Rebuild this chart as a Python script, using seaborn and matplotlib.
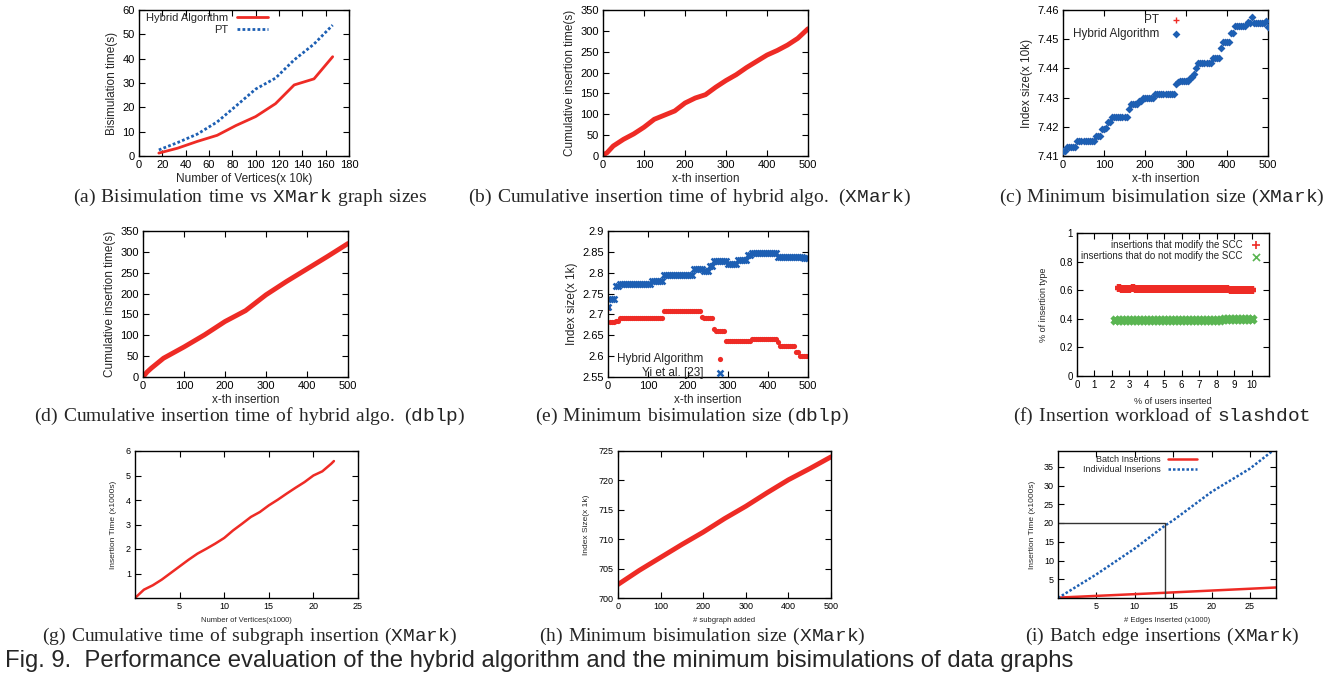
import numpy as np
import matplotlib
matplotlib.use("Agg")
import matplotlib.pyplot as plt
import seaborn as sns
from matplotlib.ticker import FuncFormatter

# ---- data ----
# (a) bisimulation time vs graph size
a_vertices = [17, 33, 50, 67, 83, 100, 117, 133, 150, 166]
a_hybrid = [1.2, 3.2, 6.0, 8.5, 12.5, 16.2, 21.5, 29.2, 31.7, 40.8]
a_pt = [2.5, 5.5, 9.0, 14.0, 20.5, 27.5, 32.0, 39.5, 46.0, 53.8]

# (b) cumulative insertion time, XMark
b_x = [0, 10, 25, 50, 75, 100, 125, 150, 175, 200, 225, 250, 275, 300, 325,
       350, 375, 400, 425, 450, 475, 500]
b_time = [2, 8, 24, 40, 53, 69, 88, 98, 108, 127, 139, 147, 165, 181, 195,
          212, 227, 242, 253, 266, 282, 305]

# (c) minimum bisimulation size, XMark (sampled every 5 insertions)
c_x = np.arange(0, 501, 5)
c_hybrid = [7.4118, 7.4118, 7.4132, 7.4132, 7.4132, 7.4132, 7.4132, 7.4150,
            7.4150, 7.4150, 7.4150, 7.4150, 7.4150, 7.4150, 7.4150, 7.4150,
            7.4169, 7.4169, 7.4169, 7.4192, 7.4192, 7.4197, 7.4215, 7.4215,
            7.4235, 7.4235, 7.4235, 7.4235, 7.4235, 7.4235, 7.4235, 7.4235,
            7.4260, 7.4277, 7.4277, 7.4277, 7.4277, 7.4288, 7.4290, 7.4298,
            7.4298, 7.4298, 7.4298, 7.4298, 7.4298, 7.4313, 7.4313, 7.4313,
            7.4313, 7.4313, 7.4313, 7.4313, 7.4313, 7.4313, 7.4313, 7.4348,
            7.4355, 7.4356, 7.4356, 7.4356, 7.4356, 7.4356, 7.4366, 7.4372,
            7.4380, 7.4400, 7.4417, 7.4417, 7.4417, 7.4417, 7.4417, 7.4417,
            7.4417, 7.4434, 7.4434, 7.4434, 7.4434, 7.4470, 7.4490, 7.4490,
            7.4490, 7.4490, 7.4521, 7.4521, 7.4545, 7.4545, 7.4545, 7.4545,
            7.4545, 7.4545, 7.4560, 7.4556, 7.4577, 7.4556, 7.4556, 7.4556,
            7.4556, 7.4556, 7.4556, 7.4563, 7.4541]
c_pt = list(c_hybrid)

# (d) cumulative insertion time, dblp
d_x = [0, 10, 20, 50, 100, 150, 200, 250, 300, 350, 400, 450, 500]
d_time = [0, 12, 21, 45, 72, 101, 133, 159, 197, 229, 259, 289, 320]

# (e) minimum bisimulation size, dblp (sampled every 5 insertions)
e_x = np.arange(0, 501, 5)
e_hybrid = [2.715, 2.682, 2.682, 2.682, 2.685, 2.685, 2.692, 2.692, 2.692,
            2.692, 2.692, 2.692, 2.692, 2.692, 2.692, 2.692, 2.692, 2.692,
            2.692, 2.692, 2.692, 2.692, 2.692, 2.692, 2.692, 2.692, 2.692,
            2.692, 2.709, 2.709, 2.709, 2.709, 2.709, 2.709, 2.709, 2.709,
            2.709, 2.709, 2.709, 2.709, 2.709, 2.709, 2.709, 2.709, 2.709,
            2.709, 2.709, 2.693, 2.691, 2.691, 2.691, 2.691, 2.691, 2.666,
            2.661, 2.661, 2.661, 2.661, 2.661, 2.636, 2.636, 2.636, 2.636,
            2.636, 2.636, 2.636, 2.636, 2.636, 2.636, 2.636, 2.636, 2.636,
            2.641, 2.641, 2.641, 2.641, 2.641, 2.641, 2.641, 2.641, 2.641,
            2.641, 2.641, 2.641, 2.641, 2.633, 2.624, 2.624, 2.624, 2.624,
            2.624, 2.624, 2.624, 2.624, 2.610, 2.610, 2.600, 2.600, 2.600,
            2.600, 2.600]
e_yi = [2.718, 2.738, 2.738, 2.738, 2.767, 2.767, 2.773, 2.773, 2.773, 2.773,
        2.773, 2.773, 2.773, 2.773, 2.773, 2.773, 2.773, 2.773, 2.773, 2.773,
        2.773, 2.773, 2.780, 2.780, 2.780, 2.780, 2.780, 2.780, 2.795, 2.795,
        2.795, 2.795, 2.795, 2.795, 2.795, 2.795, 2.795, 2.795, 2.795, 2.795,
        2.795, 2.795, 2.795, 2.810, 2.810, 2.810, 2.810, 2.810, 2.803, 2.803,
        2.803, 2.815, 2.815, 2.827, 2.827, 2.827, 2.827, 2.827, 2.827, 2.827,
        2.820, 2.820, 2.820, 2.820, 2.820, 2.830, 2.830, 2.830, 2.830, 2.830,
        2.843, 2.843, 2.847, 2.847, 2.847, 2.847, 2.847, 2.847, 2.847, 2.847,
        2.847, 2.847, 2.847, 2.847, 2.847, 2.838, 2.838, 2.838, 2.838, 2.838,
        2.838, 2.838, 2.838, 2.838, 2.838, 2.838, 2.838, 2.838, 2.835, 2.835,
        2.835]

# (f) insertion workload of slashdot
f_mod_x = np.arange(2.4, 10.01, 0.2)
f_mod = [0.612, 0.611, 0.610, 0.611, 0.612, 0.610, 0.609, 0.609, 0.608, 0.608,
         0.608, 0.608, 0.608, 0.608, 0.608, 0.608, 0.608, 0.608, 0.608, 0.608,
         0.608, 0.608, 0.608, 0.608, 0.608, 0.608, 0.608, 0.608, 0.607, 0.607,
         0.606, 0.605, 0.604, 0.603, 0.602, 0.602, 0.602, 0.602, 0.602]
f_nomod_x = np.arange(2.2, 10.11, 0.2)
f_nomod = [0.390, 0.390, 0.390, 0.390, 0.390, 0.390, 0.390, 0.390, 0.390,
           0.390, 0.390, 0.390, 0.390, 0.390, 0.390, 0.390, 0.390, 0.390,
           0.390, 0.390, 0.390, 0.390, 0.390, 0.390, 0.391, 0.391, 0.392,
           0.392, 0.393, 0.394, 0.395, 0.396, 0.397, 0.398, 0.398, 0.398,
           0.398, 0.398, 0.398, 0.398]

# (g) cumulative time of subgraph insertion
g_vertices = [0, 1, 2, 3, 4, 5, 6, 7, 8, 9, 10, 11, 12, 13, 14, 15, 16, 17,
              18, 19, 20, 21, 22, 22.3]
g_time = [0.0, 0.34, 0.52, 0.75, 1.02, 1.29, 1.56, 1.81, 2.01, 2.22, 2.45,
          2.76, 3.03, 3.31, 3.51, 3.78, 4.01, 4.26, 4.50, 4.73, 5.00, 5.17,
          5.48, 5.59]

# (h) minimum bisimulation size vs subgraphs added
h_x = [0, 50, 100, 150, 200, 250, 300, 350, 400, 450, 500]
h_size = [702.3, 704.7, 706.9, 709.1, 711.2, 713.5, 715.6, 717.9, 720.1,
          722.0, 724.0]

# (i) batch vs individual edge insertions
i_edges = [0, 5, 10, 14, 15, 20, 25, 28]
i_individual = [0, 6.3, 13.2, 19.4, 20.7, 28.3, 34.5, 39.3]
i_batch_x = [0, 14, 28.4]
i_batch = [0.1, 1.4, 2.8]
i_mark_x = [0, 14, 14]
i_mark_y = [20, 20, 0]

captions = [
    ("a", [("Bisimulation time vs ", 0), ("XMark", 1), (" graph sizes", 0)]),
    ("b", [("Cumulative insertion time of hybrid algo. (", 0), ("XMark", 1), (")", 0)]),
    ("c", [("Minimum bisimulation size (", 0), ("XMark", 1), (")", 0)]),
    ("d", [("Cumulative insertion time of hybrid algo. (", 0), ("dblp", 1), (")", 0)]),
    ("e", [("Minimum bisimulation size (", 0), ("dblp", 1), (")", 0)]),
    ("f", [("Insertion workload of ", 0), ("slashdot", 1)]),
    ("g", [("Cumulative time of subgraph insertion (", 0), ("XMark", 1), (")", 0)]),
    ("h", [("Minimum bisimulation size (", 0), ("XMark", 1), (")", 0)]),
    ("i", [("Batch edge insertions (", 0), ("XMark", 1), (")", 0)]),
]
fig_caption = "Fig. 9.  Performance evaluation of the hybrid algorithm and the minimum bisimulations of data graphs"

RED = "#ee2b25"
BLUE = "#1d5fb3"
GREEN = "#5ab552"

W, H = 1339, 679

sns.set_theme(style="ticks")
plt.rcParams["font.family"] = ["Liberation Sans", "DejaVu Sans"]
plt.rcParams["mathtext.fontset"] = "custom"
plt.rcParams["mathtext.rm"] = "Liberation Serif"
plt.rcParams["mathtext.tt"] = "Liberation Mono"
plt.rcParams["axes.edgecolor"] = "black"
plt.rcParams["axes.linewidth"] = 1.0

fig = plt.figure(figsize=(W / 100, H / 100), dpi=100)


def px(x, y):
    return x / W, 1 - y / H


def make_ax(x0, y0, x1, y1, fs=8):
    ax = fig.add_axes([x0 / W, 1 - y1 / H, (x1 - x0) / W, (y1 - y0) / H])
    ax.tick_params(direction="in", top=True, right=True, length=4, width=0.8,
                   labelsize=fs, colors="black", pad=3)
    return ax


def gp_legend(ax, corner, fs=7.5, spacing=0.15, **kw):
    leg = ax.legend(loc="upper right", bbox_to_anchor=px(*corner),
                    bbox_transform=fig.transFigure, frameon=False,
                    markerfirst=False, fontsize=fs, borderpad=0,
                    borderaxespad=0, labelspacing=spacing, handletextpad=0.8, **kw)
    return leg


g_fmt = FuncFormatter(lambda v, p: "%g" % round(v, 4))

# (a)
ax = make_ax(139, 10, 349, 156)
sns.lineplot(x=a_vertices, y=a_hybrid, ax=ax, color=RED, lw=2, label="Hybrid Algorithm")
sns.lineplot(x=a_vertices, y=a_pt, ax=ax, color=BLUE, lw=2, ls=(0, (1, 0.8)), label="PT")
ax.set_xlim(0, 180)
ax.set_ylim(0, 60)
ax.set_xticks(range(0, 181, 20))
ax.set_yticks(range(0, 61, 10))
ax.set_xlabel("Number of Vertices(x 10k)", fontsize=8.5, labelpad=2)
ax.set_ylabel("Bisimulation time(s)", fontsize=8.5, labelpad=3)
gp_legend(ax, (268, 13), fs=8, handlelength=2.8)

# (b)
ax = make_ax(603, 10, 808, 156)
sns.lineplot(x=b_x, y=b_time, ax=ax, color=RED, lw=3.5)
ax.set_xlim(0, 500)
ax.set_ylim(0, 350)
ax.set_xticks(range(0, 501, 100))
ax.set_yticks(range(0, 351, 50))
ax.set_xlabel("x-th insertion", fontsize=8.5, labelpad=2)
ax.set_ylabel("Cumulative insertion time(s)", fontsize=8.5, labelpad=3)

# (c)
ax = make_ax(1063, 10, 1268, 156)
sns.scatterplot(x=c_x, y=c_pt, ax=ax, color=RED, marker="+", s=22, linewidth=1,
                label="PT", zorder=2)
sns.scatterplot(x=c_x, y=c_hybrid, ax=ax, color=BLUE, marker="D", s=16,
                linewidth=0, label="Hybrid Algorithm", zorder=3)
ax.set_xlim(0, 500)
ax.set_ylim(7.41, 7.46)
ax.set_xticks(range(0, 501, 100))
ax.set_yticks([7.41, 7.42, 7.43, 7.44, 7.45, 7.46])
ax.yaxis.set_major_formatter(g_fmt)
ax.set_xlabel("x-th insertion", fontsize=8.5, labelpad=2)
ax.set_ylabel("Index size(x 10k)", fontsize=8.5, labelpad=3)
gp_legend(ax, (1183, 14), fs=8.5, scatterpoints=1, handlelength=1.2)

# (d)
ax = make_ax(143, 231, 348, 377)
sns.lineplot(x=d_x, y=d_time, ax=ax, color=RED, lw=3.5)
ax.set_xlim(0, 500)
ax.set_ylim(0, 350)
ax.set_xticks(range(0, 501, 100))
ax.set_yticks(range(0, 351, 50))
ax.set_xlabel("x-th insertion", fontsize=8.5, labelpad=2)
ax.set_ylabel("Cumulative insertion time(s)", fontsize=8.5, labelpad=3)

# (e)
ax = make_ax(608, 231, 808, 377)
sns.scatterplot(x=e_x, y=e_hybrid, ax=ax, color=RED, marker="o", s=14,
                linewidth=0, label="Hybrid Algorithm")
sns.scatterplot(x=e_x, y=e_yi, ax=ax, color=BLUE, marker="x", s=18,
                linewidth=1.8, label="Yi et al. [23]")
ax.set_xlim(0, 500)
ax.set_ylim(2.55, 2.9)
ax.set_xticks(range(0, 501, 100))
ax.set_yticks([2.55, 2.6, 2.65, 2.7, 2.75, 2.8, 2.85, 2.9])
ax.yaxis.set_major_formatter(g_fmt)
ax.set_xlabel("x-th insertion", fontsize=8.5, labelpad=2)
ax.set_ylabel("Index size(x 1k)", fontsize=8.5, labelpad=3)
gp_legend(ax, (727, 353), fs=8.5, scatterpoints=1, handlelength=1.2)

# (f)
ax = make_ax(1077, 233, 1269, 376, fs=7)
sns.scatterplot(x=f_mod_x, y=f_mod, ax=ax, color=RED, marker="+", s=36,
                linewidth=3.2, label="insertions that modify the SCC")
sns.scatterplot(x=f_nomod_x, y=f_nomod, ax=ax, color=GREEN, marker="x", s=26,
                linewidth=3.2, label="insertions that do not modify the SCC")
ax.set_xlim(0, 11)
ax.set_ylim(0, 1)
ax.set_xticks(range(0, 11))
ax.set_yticks([0, 0.2, 0.4, 0.6, 0.8, 1])
ax.yaxis.set_major_formatter(g_fmt)
ax.set_xlabel("% of users inserted", fontsize=6.5, labelpad=5)
ax.set_ylabel("% of insertion type", fontsize=6.5, labelpad=8)
leg = gp_legend(ax, (1262, 240), fs=7, scatterpoints=1, handlelength=1.2)
for h in leg.legend_handles:
    h.set_linewidth(1.2)

# (g)
ax = make_ax(135, 451, 358, 598, fs=6.5)
sns.lineplot(x=g_vertices, y=g_time, ax=ax, color=RED, lw=1.8)
ax.set_xlim(0, 25)
ax.set_ylim(0, 6)
ax.set_xticks([5, 10, 15, 20, 25])
ax.set_yticks([1, 2, 3, 4, 5, 6])
ax.set_xlabel("Number of Vertices(x1000)", fontsize=5.5, labelpad=4)
ax.set_ylabel("Insertion Time (x1000s)", fontsize=6, labelpad=6)

# (h)
ax = make_ax(618, 451, 831, 598, fs=6.5)
sns.lineplot(x=h_x, y=h_size, ax=ax, color=RED, lw=3.5)
ax.set_xlim(0, 500)
ax.set_ylim(700, 725)
ax.set_xticks(range(0, 501, 100))
ax.set_yticks(range(700, 726, 5))
ax.set_xlabel("# subgraph added", fontsize=5.5, labelpad=4)
ax.set_ylabel("Index Size(x 1k)", fontsize=6, labelpad=6)

# (i)
ax = make_ax(1058, 451, 1276, 598, fs=6.5)
sns.lineplot(x=i_batch_x, y=i_batch, ax=ax, color=RED, lw=1.8, label="Batch Insertions")
sns.lineplot(x=i_edges, y=i_individual, ax=ax, color=BLUE, lw=1.8,
             ls=(0, (1, 0.8)), label="Individual Inserions")
ax.plot(i_mark_x, i_mark_y, color="#333333", lw=1)
ax.set_xlim(0, 28.4)
ax.set_ylim(0, 39.2)
ax.set_xticks([5, 10, 15, 20, 25])
ax.set_yticks([5, 10, 15, 20, 25, 30, 35])
ax.set_xlabel("# Edges Inserted (x1000)", fontsize=5.5, labelpad=4)
ax.set_ylabel("Insertion Time (x1000s)", fontsize=6, labelpad=6)
gp_legend(ax, (1197, 455), fs=6.5, spacing=0.1, handlelength=3.2)

# sub-captions
cap_pos = [(250, 197), (690, 197), (1162, 197),
           (250, 416), (692, 416), (1162, 416),
           (250, 636), (702, 636), (1162, 636)]
for (tag, parts), (cx, cy) in zip(captions, cap_pos):
    s = r"\mathrm{(%s)\ }" % tag
    for txt, mono in parts:
        t = txt.replace(" ", r"\ ")
        s += (r"\mathtt{%s}" if mono else r"\mathrm{%s}") % t
    fig.text(*px(cx, cy), "$" + s + "$", ha="center", va="center", fontsize=14)

fig.text(*px(5, 661), fig_caption, ha="left", va="center", fontsize=17.2)

fig.savefig("out.png", dpi=100)
